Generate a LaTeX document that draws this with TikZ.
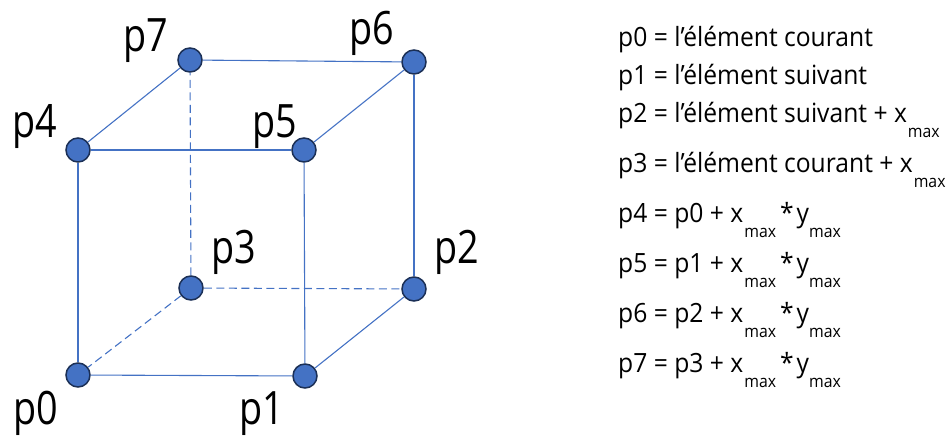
\documentclass[tikz,border=0pt]{standalone}
\usepackage{fontspec}
\setmainfont[FakeStretch=0.93]{Open Sans}
\newfontfamily\labelfont[FakeStretch=0.82]{Open Sans}
\usepackage{xcolor}
\definecolor{cubeBlue}{RGB}{68,114,196}
\definecolor{cubeNavy}{RGB}{27,47,85}
\newcommand{\Smax}{\raisebox{-15pt}{\fontsize{17}{18}\selectfont max}}
\newcommand{\XYmax}{\hspace{1pt}\Smax\hspace{4pt}*\hspace{3pt}y\Smax}
\tikzset{
  vertex/.style={circle,draw=cubeNavy,fill=cubeBlue,line width=1.5pt,minimum size=24pt,inner sep=0pt},
  edge/.style={draw=cubeBlue,line width=1.1pt},
  hidden/.style={edge,dash pattern=on 8pt off 4.5pt},
  vlabel/.style={anchor=base west,inner sep=0pt,font=\labelfont\fontsize{46}{50}\selectfont},
  legend/.style={anchor=base west,inner sep=0pt,font=\fontsize{26.5}{28}\selectfont}
}
\begin{document}
\begin{tikzpicture}[x=1pt,y=-1pt]
\useasboundingbox (0,0) rectangle (949,436);

\node[vertex] (p0) at (78,375) {};
\node[vertex] (p1) at (305,376) {};
\node[vertex] (p2) at (414,289) {};
\node[vertex] (p3) at (191,288) {};
\node[vertex] (p4) at (78,150) {};
\node[vertex] (p5) at (304,150) {};
\node[vertex] (p6) at (414,62) {};
\node[vertex] (p7) at (190,60) {};

\draw[edge] (p0) -- (p1);
\draw[edge] (p1) -- (p2);
\draw[edge] (p4) -- (p5);
\draw[edge] (p5) -- (p6);
\draw[edge] (p7) -- (p6);
\draw[edge] (p4) -- (p7);
\draw[edge] (p0) -- (p4);
\draw[edge] (p1) -- (p5);
\draw[edge] (p2) -- (p6);
\draw[hidden] (p3) -- (p7);
\draw[hidden] (p3) -- (p2);
\draw[hidden] (p3) -- (p0);

\node[vlabel] (lab0) at (13,424) {p0};
\node[vlabel] (lab1) at (239,424) {p1};
\node[vlabel] (lab2) at (434,263) {p2};
\node[vlabel] (lab3) at (211,263) {p3};
\node[vlabel] (lab4) at (12,137) {p4};
\node[vlabel] (lab5) at (252,137) {p5};
\node[vlabel] (lab6) at (349,45) {p6};
\node[vlabel] (lab7) at (123,52) {p7};

\node[legend] (def0) at (618,46) {p0 = l’élément courant};
\node[legend] (def1) at (618,84) {p1 = l’élément suivant};
\node[legend] (def2) at (618,122) {p2 = l’élément suivant + x\hspace{1pt}\Smax};
\node[legend] (def3) at (618,172) {p3 = l’élément courant + x\hspace{1pt}\Smax};
\node[legend] (def4) at (618,222) {p4 = p0 + x\XYmax};
\node[legend] (def5) at (618,272) {p5 = p1 + x\XYmax};
\node[legend] (def6) at (618,322) {p6 = p2 + x\XYmax};
\node[legend] (def7) at (618,372) {p7 = p3 + x\XYmax};

\end{tikzpicture}
\end{document}
